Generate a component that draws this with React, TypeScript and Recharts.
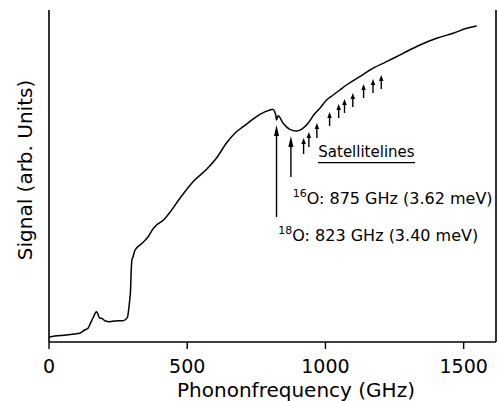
import React from 'react';
import { LineChart, Line, XAxis, YAxis, ReferenceLine } from 'recharts';

const freq = [0, 21, 63, 93, 111, 129, 141, 147, 159, 172, 183, 190, 202, 220, 238, 268, 274, 284, 288, 292, 295, 297.5, 300, 304, 310, 316, 334, 358, 376, 389, 413, 437, 473, 521, 570, 606, 642, 678, 702, 726, 763, 799, 808.5, 820.5, 823, 829, 847, 871, 895, 913.5, 937, 955.5, 980, 1004, 1028, 1052, 1076, 1124, 1161, 1221, 1281, 1342, 1402, 1462, 1511, 1547];
const signal = [5, 6, 7, 8, 8.7, 12, 13.7, 17, 24, 30.3, 24, 23.7, 21.3, 20.3, 21, 21.3, 22, 25, 32, 42, 52, 72, 82, 85.3, 91, 93.7, 98, 105, 113, 117, 121.7, 129.5, 143.5, 160.3, 172.7, 184, 199, 210.3, 215.3, 220.3, 227.7, 232, 232.7, 227, 222, 226.3, 218.7, 212.7, 211, 212.7, 218.7, 226.3, 233.7, 242, 247, 252, 257, 265.3, 272, 280.3, 288.7, 297, 303.7, 308.7, 313.7, 316];

const xTicks = [0, 500, 1000, 1500];
const xMax = 1617;

const isoFreq = [823, 875];
const isoTop = [217, 206];
const isoBottom = [125, 165];

const satFreq = [921, 940, 969, 1015, 1048, 1069, 1099, 1138, 1172, 1202];
const satTop = [204, 210, 219, 230, 238, 243, 249, 258, 263, 267];
const satBottom = [188, 195, 204, 216, 224, 229, 235, 244, 249, 253];

const data = freq.map((f, i) => ({ f, s: signal[i] }));

const FONT = 'DejaVu Sans';
const frame = { stroke: '#000', strokeWidth: 1.6 };

const makeArrow = (headLen: number, headW: number) => (p: any) => {
  const { x1, y1, x2, y2 } = p;
  const x = x2;
  return (
    <g>
      <line x1={x1} y1={y1} x2={x} y2={y2 + headLen * 0.6} stroke="#000" strokeWidth={1.4} />
      <path d={`M ${x} ${y2} L ${x - headW / 2} ${y2 + headLen} L ${x + headW / 2} ${y2 + headLen} Z`} fill="#000" />
    </g>
  );
};

const bigArrow = makeArrow(11, 5);
const smallArrow = makeArrow(6, 4.5);

export default function App() {
  return (
    <div style={{ position: 'relative', width: 489, height: 393 }}>
      <style>{'body{margin-right:0}'}</style>
      <LineChart width={489} height={393} data={data} margin={{ top: 2, right: 1, bottom: 0, left: 0 }}>
        <XAxis
          dataKey="f"
          type="number"
          domain={[0, xMax]}
          ticks={xTicks}
          tickSize={7}
          tickMargin={11}
          height={59}
          axisLine={frame}
          tickLine={{ stroke: '#000', strokeWidth: 1.4 }}
          tick={{ fill: '#000', fontSize: 19, fontFamily: FONT }}
        />
        <XAxis
          xAxisId="top"
          orientation="top"
          dataKey="f"
          type="number"
          domain={[0, xMax]}
          height={0}
          tick={false}
          tickLine={false}
          axisLine={frame}
        />
        <YAxis type="number" domain={[0, 332]} width={41} tick={false} tickLine={false} axisLine={frame} />
        <ReferenceLine x={xMax} stroke="#000" strokeWidth={1.6} ifOverflow="visible" />
        {isoFreq.map((f, i) => (
          <ReferenceLine
            key={'iso' + i}
            segment={[{ x: f, y: isoBottom[i] }, { x: f, y: isoTop[i] }]}
            stroke="#000"
            shape={bigArrow}
          />
        ))}
        {satFreq.map((f, i) => (
          <ReferenceLine
            key={'sat' + i}
            segment={[{ x: f, y: satBottom[i] }, { x: f, y: satTop[i] }]}
            stroke="#000"
            shape={smallArrow}
          />
        ))}
        <Line
          type="monotone"
          dataKey="s"
          stroke="#000"
          strokeWidth={1.5}
          dot={false}
          isAnimationActive={false}
        />
      </LineChart>
      <svg width={489} height={393} style={{ position: 'absolute', left: 0, top: 0, pointerEvents: 'none' }}>
        <g fontFamily={FONT} fill="#000">
          <text x={16.5} y={162} fontSize={20} textAnchor="middle" dominantBaseline="central" transform="rotate(-90 16.5 162)">
            Signal (arb. Units)
          </text>
          <text x={288} y={388.5} fontSize={20} textAnchor="middle">
            Phononfrequency (GHz)
          </text>
          <text x={310.3} y={149.3} fontSize={15}>Satellitelines</text>
          <line x1={310} y1={154.7} x2={407} y2={154.7} stroke="#000" strokeWidth={1.3} />
          <text x={284.7} y={196} fontSize={16}>
            <tspan fontSize={11} dy={-7}>16</tspan>
            <tspan dy={7}>O: 875 GHz (3.62 meV)</tspan>
          </text>
          <text x={270.3} y={233} fontSize={16}>
            <tspan fontSize={11} dy={-7}>18</tspan>
            <tspan dy={7}>O: 823 GHz (3.40 meV)</tspan>
          </text>
        </g>
      </svg>
    </div>
  );
}
